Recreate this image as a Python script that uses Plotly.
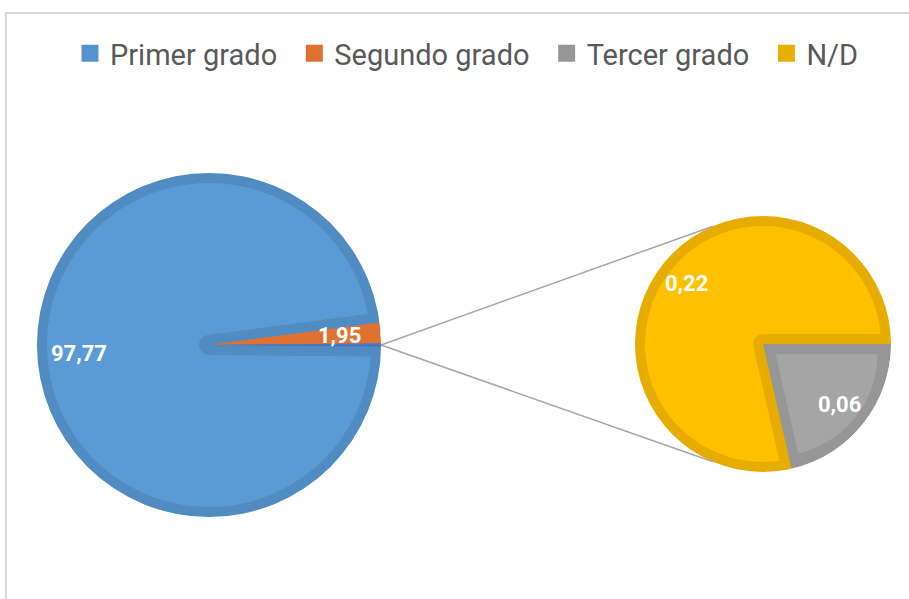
import math
import plotly.graph_objects as go

# datos del gráfico
categorias = ['Primer grado', 'Segundo grado', 'Tercer grado', 'N/D']
valores = [97.77, 1.95, 0.06, 0.22]
# el segundo círculo desglosa los dos últimos valores
cat_sub = ['Tercer grado', 'N/D']
val_sub = [0.06, 0.22]

W, H = 909, 599
C1, R1 = (209, 345), 172      # pastel principal
C2, R2 = (763, 344), 128      # pastel secundario
BORDE = 10
ANG_CONECTOR = 113            # donde llegan las líneas al segundo pastel
R_ETIQ = 0.76

AZUL, AZUL_OSC = '#5B9BD5', '#508BC2'
NARANJA = '#DF7230'
GRIS, GRIS_OSC = '#A5A5A5', '#969696'
AMARILLO, AMARILLO_OSC = '#FFC000', '#E6AD00'
OTROS = '#4472C4'
LEYENDA_COL = ['#5593CC', '#DC7230', '#979797', '#E8AE00']
TRANSP = 'rgba(0,0,0,0)'
ESP = '\u00a0\u2006'  # separación extra entre elementos de la leyenda


def dominio(c, half):
    return dict(x=[(c[0] - half) / W, (c[0] + half) / W],
                y=[1 - (c[1] + half) / H, 1 - (c[1] - half) / H])


def medios(vals, rot):
    # ángulo medio de cada porción, en grados de reloj desde las 12
    tot = sum(vals)
    out, a = [], rot
    for v in vals:
        d = 360 * v / tot
        out.append(a + d / 2)
        a += d
    return out


def punto(c, r, reloj):
    m = math.radians(90 - reloj)
    return (c[0] + r * math.cos(m)) / W, 1 - (c[1] - r * math.sin(m)) / H


otros = sum(val_sub)
rot1 = 90 + 180 * otros / sum(valores)
# orden en el segundo pastel: N/D primero, Tercer encima
vals2 = [val_sub[1], val_sub[0]]
rot2 = 90 + 360 * val_sub[0] / otros

fig = go.Figure()

# traza solo para la leyenda (queda tapada por el pastel principal)
fig.add_trace(go.Pie(labels=[c + ESP for c in categorias], values=valores, sort=False,
                     domain=dominio(C1, 2), textinfo='none', hoverinfo='skip',
                     marker=dict(colors=LEYENDA_COL, line=dict(color=LEYENDA_COL, width=5))))

# pastel secundario
fig.add_trace(go.Pie(labels=[cat_sub[1], cat_sub[0]], values=vals2, sort=False,
                     direction='clockwise', rotation=rot2, showlegend=False,
                     domain=dominio(C2, R2), textinfo='none', hoverinfo='skip',
                     marker=dict(colors=[AMARILLO, GRIS_OSC],
                                 line=dict(color=[AMARILLO_OSC, GRIS_OSC], width=[2 * BORDE, 0]))))
medio = math.pi * val_sub[0] / otros
desp = BORDE / math.sin(medio)
r_in = R2 - BORDE - desp
fig.add_trace(go.Pie(labels=[cat_sub[1], cat_sub[0]], values=vals2, sort=False,
                     direction='clockwise', rotation=rot2, showlegend=False,
                     pull=[0, desp / r_in],
                     domain=dominio(C2, R2 - BORDE), textinfo='none', hoverinfo='skip',
                     marker=dict(colors=[TRANSP, GRIS], line=dict(width=0))))
fig.add_trace(go.Pie(labels=['m2'], values=[1], showlegend=False, hole=R2 / (R2 + 14),
                     domain=dominio(C2, R2 + 14), textinfo='none', hoverinfo='skip',
                     marker=dict(colors=['white'], line=dict(width=0))))

# pastel principal
fig.add_trace(go.Pie(labels=categorias, values=valores, sort=False,
                     direction='clockwise', rotation=rot1, showlegend=False,
                     domain=dominio(C1, R1), textinfo='none', hoverinfo='skip',
                     marker=dict(colors=[AZUL, NARANJA, OTROS, OTROS],
                                 line=dict(color=[AZUL_OSC, NARANJA, OTROS, OTROS],
                                           width=[2 * BORDE, 0, 0, 0]))))
fig.add_trace(go.Pie(labels=['m1'], values=[1], showlegend=False, hole=R1 / (R1 + 14),
                     domain=dominio(C1, R1 + 14), textinfo='none', hoverinfo='skip',
                     marker=dict(colors=['white'], line=dict(width=0))))

# etiquetas de datos
fuente = dict(family='Roboto', size=22, color='white', weight='bold')
m1 = medios(valores[:2] + [otros], rot1)
m2 = medios(vals2, rot2)
etiquetas = [(C1, R1, m1[0], valores[0]), (C1, R1, m1[1], valores[1]),
             (C2, R2, m2[0], val_sub[1]), (C2, R2, m2[1], val_sub[0])]
for c, r, ang, v in etiquetas:
    x, y = punto(c, R_ETIQ * r, ang)
    fig.add_annotation(x=x, y=y, xref='paper', yref='paper', showarrow=False,
                       xanchor='center', yanchor='middle',
                       text=f'{v:.2f}'.replace('.', ','), font=fuente)

# líneas de unión
x0, y0 = punto(C1, R1, 90)
for s in (1, -1):
    x1, y1 = punto(C2, R2, 90 - s * ANG_CONECTOR)
    fig.add_shape(type='line', xref='paper', yref='paper', x0=x0, y0=y0, x1=x1, y1=y1,
                  line=dict(color='#A6A6A6', width=1.5), layer='above')

# marco
fig.add_shape(type='rect', xref='paper', yref='paper', x0=6 / W, x1=1.05, y0=-0.05, y1=1 - 13 / H,
              line=dict(color='#D9D9D9', width=2), layer='below')

fig.update_layout(width=W, height=H, margin=dict(l=0, r=0, t=0, b=0),
                  paper_bgcolor='white', plot_bgcolor='white',
                  legend=dict(orientation='h', x=70 / W, xanchor='left', y=1 - 28 / H, yanchor='top',
                              font=dict(family='Roboto', size=29, color='#595959'),
                              bgcolor=TRANSP))

fig.write_html('out.html', config={'displayModeBar': False},
               post_script="document.body.style.margin='0';")
